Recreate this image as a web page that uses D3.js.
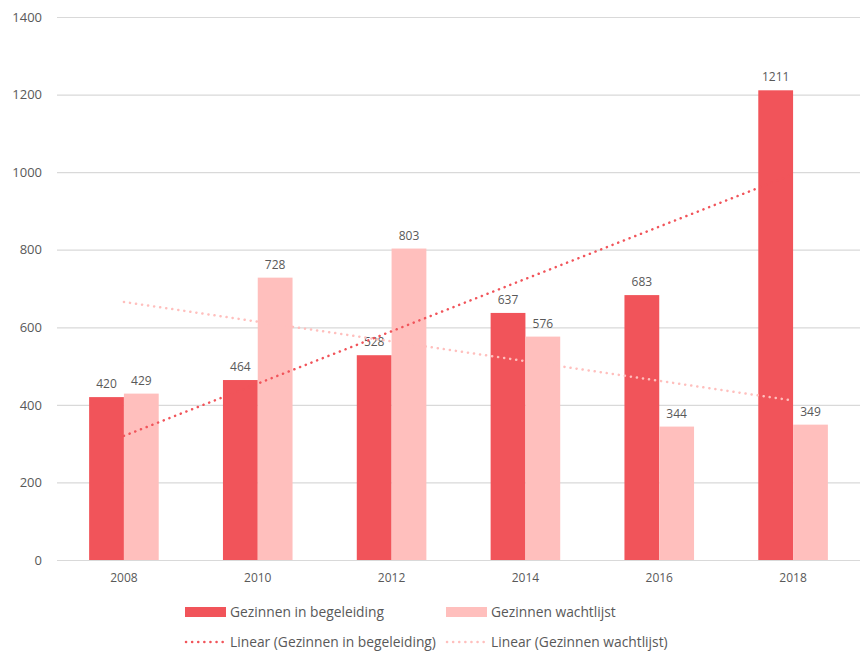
<!DOCTYPE html>
<html>
<head>
<meta charset="utf-8">
<script src="https://cdn.jsdelivr.net/npm/d3@7"></script>
<style>
  body { margin: 0; background: #fff; }
  svg text { font-family: "Open Sans", Lato, sans-serif; fill: #595959; }
</style>
</head>
<body>
<svg id="chart" width="862" height="652"></svg>
<script>
const years = ['2008', '2010', '2012', '2014', '2016', '2018'];
const begeleiding = [420, 464, 528, 637, 683, 1211];
const wachtlijst = [429, 728, 803, 576, 344, 349];
const yTicks = [0, 200, 400, 600, 800, 1000, 1200, 1400];

const seriesNames = ['Gezinnen in begeleiding', 'Gezinnen wachtlijst'];
const colors = ['#F1545A', '#FFBFBD'];

const svg = d3.select('#chart');
const margin = { left: 57, right: 2, top: 17, bottom: 92 };
const width = 862, height = 652;

const x = d3.scaleBand()
    .domain(years)
    .range([margin.left, width - margin.right])
    .paddingInner(0.48)
    .paddingOuter(0.24);

const sub = d3.scaleBand()
    .domain([0, 1])
    .range([0, x.bandwidth()]);

const y = d3.scaleLinear()
    .domain([0, 1400])
    .range([height - margin.bottom, margin.top]);

// gridlines + y labels
const yAxis = svg.append('g')
    .attr('transform', `translate(${margin.left},0)`)
    .call(d3.axisLeft(y).tickValues(yTicks).tickFormat(d3.format('d'))
        .tickSize(-(width - margin.left - margin.right)).tickPadding(15));
yAxis.select('.domain').remove();
yAxis.selectAll('line').attr('stroke', '#d9d9d9').attr('stroke-width', 1.2);
yAxis.selectAll('text').style('font-size', '13px').attr('fill', '#595959');

// x labels
const xAxis = svg.append('g')
    .attr('transform', `translate(0,${height - margin.bottom})`)
    .call(d3.axisBottom(x).tickSize(0).tickPadding(13));
xAxis.select('.domain').remove();
xAxis.selectAll('text').style('font-size', '12px').attr('fill', '#595959');

// bars
const series = [begeleiding, wachtlijst];
series.forEach((vals, s) => {
    const g = svg.append('g');
    g.selectAll('rect')
        .data(vals)
        .enter().append('rect')
        .attr('x', (d, i) => x(years[i]) + sub(s))
        .attr('y', d => y(d))
        .attr('width', sub.bandwidth())
        .attr('height', d => y(0) - y(d))
        .attr('fill', colors[s]);
    g.selectAll('text')
        .data(vals)
        .enter().append('text')
        .attr('x', (d, i) => x(years[i]) + sub(s) + sub.bandwidth() / 2)
        .attr('y', d => y(d) - 9)
        .attr('text-anchor', 'middle')
        .style('font-size', '12px')
        .attr('fill', '#404040')
        .text(d => d);
});

// linear trend lines
const linReg = vals => {
    const xs = vals.map((d, i) => i + 1);
    const mx = d3.mean(xs), my = d3.mean(vals);
    const slope = d3.sum(xs, (xi, i) => (xi - mx) * (vals[i] - my)) / d3.sum(xs, xi => (xi - mx) ** 2);
    return xi => my + slope * (xi - mx);
};
series.forEach((vals, s) => {
    const f = linReg(vals);
    const pts = [1, vals.length].map(xi => [x(years[xi - 1]) + x.bandwidth() / 2, y(f(xi))]);
    svg.append('path')
        .attr('d', d3.line()(pts))
        .attr('stroke', colors[s])
        .attr('stroke-width', 2.5)
        .attr('stroke-linecap', 'round')
        .attr('stroke-dasharray', '0.1 6')
        .attr('fill', 'none');
});

// legend
const legendItems = [
    { label: seriesNames[0], color: colors[0], type: 'rect', x: 185, y: 612 },
    { label: seriesNames[1], color: colors[1], type: 'rect', x: 446, y: 612 },
    { label: `Linear (${seriesNames[0]})`, color: colors[0], type: 'line', x: 185, y: 642 },
    { label: `Linear (${seriesNames[1]})`, color: colors[1], type: 'line', x: 446, y: 642 }
];
const lg = svg.append('g');
legendItems.forEach(it => {
    if (it.type === 'rect') {
        lg.append('rect')
            .attr('x', it.x).attr('y', it.y - 5)
            .attr('width', 41).attr('height', 10)
            .attr('fill', it.color);
    } else {
        lg.append('line')
            .attr('x1', it.x + 1).attr('x2', it.x + 40)
            .attr('y1', it.y).attr('y2', it.y)
            .attr('stroke', it.color)
            .attr('stroke-width', 2.5)
            .attr('stroke-linecap', 'round')
            .attr('stroke-dasharray', '0.1 6');
    }
    lg.append('text')
        .attr('x', it.x + 45)
        .attr('y', it.y)
        .attr('dy', '0.35em')
        .style('font-size', '13.8px')
        .text(it.label);
});
</script>
</body>
</html>
